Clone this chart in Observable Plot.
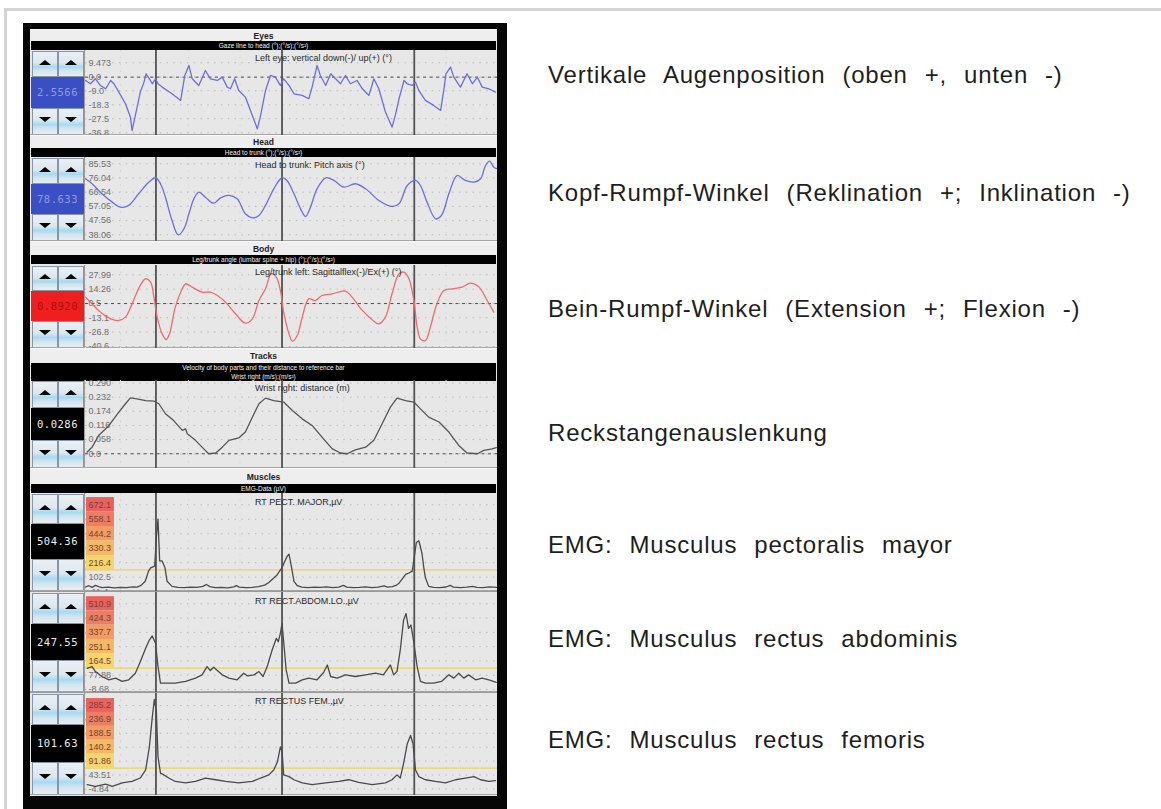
<!DOCTYPE html>
<html><head><meta charset="utf-8">
<script src="https://cdn.jsdelivr.net/npm/d3@7"></script>
<script src="https://cdn.jsdelivr.net/npm/@observablehq/plot@0.6"></script>
<style>
body{margin:0;width:1161px;height:809px;position:relative;overflow:hidden;background:#fff;font-family:"Liberation Sans",Arial,sans-serif}
</style></head><body>
<script>
// ---------------- DATA ----------------
const sectionNames = ["Eyes","Head","Body","Tracks","Muscles"];
const sectionBars = [
  ["Gaze line to head (°);(°/s);(°/s²)"],
  ["Head to trunk (°);(°/s);(°/s²)"],
  ["Leg/trunk angle (lumbar spine + hip) (°);(°/s);(°/s²)"],
  ["Velocity of body parts and their distance to reference bar","Wrist right (m/s);(m/s²)"],
  ["EMG-Data (µV)"]
];
const plotTitles = ["Left eye: vertical down(-)/ up(+) (°)","Head to trunk: Pitch axis (°)","Leg/trunk left: Sagittalflex(-)/Ex(+) (°)","Wrist right: distance (m)","RT PECT. MAJOR,µV","RT RECT.ABDOM.LO.,µV","RT RECTUS FEM.,µV"];
const valueReadouts = ["2.5566","78.633","0.8920","0.0286","504.36","247.55","101.63"];
const rightLabels = ["Vertikale Augenposition (oben +, unten -)","Kopf-Rumpf-Winkel (Reklination +; Inklination -)","Bein-Rumpf-Winkel (Extension +; Flexion -)","Reckstangenauslenkung","EMG: Musculus pectoralis mayor","EMG: Musculus rectus abdominis","EMG: Musculus rectus femoris"];

// tick labels per panel
const eyeLabels   = ["9.473","0.0","-9.0","-18.3","-27.5","-36.8"];
const headLabels  = ["85.53","76.04","66.54","57.05","47.56","38.06"];
const bodyLabels  = ["27.99","14.26","0.5","-13.1","-26.8","-40.6"];
const trackLabels = ["0.290","0.232","0.174","0.116","0.058","0.0"];
const emg1Labels  = ["672.1","558.1","444.2","330.3","216.4","102.5","-11.4"];
const emg2Labels  = ["510.9","424.3","337.7","251.1","164.5","77.88","-8.68"];
const emg3Labels  = ["285.2","236.9","188.5","140.2","91.86","43.51","-4.84"];
const emgThresholds = [159.5, 121.2, 67.7];

// cursor (event) times, time axis 0..100
const cursorTimes = [17.1, 47.7, 79.8];

// series [time, value]
const eyeSeries = [[0,-2.2],[1.2,-4.4],[2.4,-1.1],[3.6,-5.5],[4.9,-7.7],[6.1,-2.2],[6.9,-4.4],[8.1,-9.9],[9.7,-17.6],[10.9,-26.4],[11.3,-35.3],[12.1,-25.3],[13.3,-9.9],[14.2,-3.3],[14.7,2.2],[15.5,-1.1],[16.2,-4.4],[17.0,-1.1],[17.6,-4.4],[18.6,-6.6],[21.0,-11.0],[23.1,-15.4],[24.1,1.1],[25.1,7.7],[25.9,-1.1],[27.5,-5.5],[29.1,4.4],[30.3,-1.1],[32.0,-2.2],[33.2,0.0],[34.4,-6.6],[35.2,-7.7],[36.2,-1.1],[37.2,-8.8],[38.8,-13.2],[40.5,-25.3],[41.7,-34.2],[42.5,-25.3],[43.7,-8.8],[44.9,1.1],[46.1,0.0],[47.3,-5.5],[48.1,-1.1],[49.4,-5.5],[50.6,-11.0],[52.6,-12.1],[54.2,-14.3],[55.0,-6.6],[56.2,7.7],[57.0,1.1],[58.3,-5.5],[59.5,2.2],[60.7,-1.1],[61.9,-4.4],[63.1,1.1],[64.3,-4.4],[65.9,-2.2],[67.2,-7.7],[68.8,-12.1],[70.0,-1.1],[71.2,-7.7],[72.8,-23.1],[74.4,-33.0],[75.2,-25.3],[76.1,-14.3],[77.3,-2.2],[78.1,-4.4],[79.3,-5.5],[80.1,-3.3],[80.9,-8.8],[82.5,-15.4],[84.5,-18.7],[86.2,-22.0],[87.0,-7.7],[87.5,2.2],[88.6,6.6],[89.4,0.0],[91.0,-6.6],[92.6,2.2],[93.9,-4.4],[95.1,0.0],[96.3,-6.6],[97.9,-7.7],[99.5,-9.9]];
const headSeries = [[0,75.5],[1.6,72.2],[4.0,65.5],[6.5,59.9],[8.5,56.5],[10.5,57.7],[12.9,65.5],[15.4,73.3],[17.0,76.2],[18.2,72.2],[19.4,63.2],[21.0,47.6],[22.5,38.0],[23.9,42.1],[25.1,52.1],[26.3,62.1],[27.5,66.6],[29.1,63.2],[31.1,59.2],[32.8,62.8],[34.8,64.4],[36.8,62.1],[38.8,52.1],[40.5,49.4],[42.1,51.0],[43.7,57.7],[45.7,68.8],[47.7,76.2],[48.9,74.4],[50.6,65.5],[52.2,55.4],[53.4,50.3],[54.6,56.5],[56.2,68.8],[58.3,76.2],[60.3,74.4],[62.7,69.9],[65.5,72.2],[68.0,68.8],[71.2,61.0],[74.4,57.0],[76.1,58.8],[78.1,71.0],[80.1,74.4],[81.3,71.0],[82.9,59.9],[85.0,48.7],[86.4,51.0],[88.2,65.5],[90.2,77.7],[92.2,74.4],[94.3,73.3],[95.9,75.5],[97.1,84.4],[98.1,87.3],[99.1,83.3],[100,82.2]];
const bodySeries = [[0,6.6],[1.6,0.2],[3.6,-7.7],[6.1,-14.1],[8.1,-15.7],[9.7,-12.5],[11.3,0.2],[13.3,17.8],[14.6,24.2],[15.8,21.0],[16.6,6.6],[17.4,-12.5],[18.6,-28.5],[19.6,-33.9],[20.4,-28.5],[21.8,-2.9],[23.5,14.6],[24.3,19.4],[25.9,16.2],[28.3,11.4],[30.3,11.4],[32.0,8.2],[34.0,1.8],[36.4,-9.3],[38.8,-18.3],[40.5,-14.1],[42.1,3.4],[43.7,14.6],[45.1,29.0],[46.3,25.8],[47.3,13.0],[48.1,-7.7],[49.4,-28.5],[50.2,-35.5],[51.4,-30.1],[52.6,-12.5],[54.2,5.0],[55.8,3.4],[57.4,8.2],[59.9,9.8],[63.1,12.4],[64.7,6.6],[67.2,-6.1],[69.6,-15.1],[71.2,-18.9],[72.8,-12.5],[74.4,9.8],[76.1,29.0],[77.3,30.5],[78.5,24.2],[79.7,3.4],[80.5,-22.1],[81.3,-33.3],[82.5,-34.9],[83.7,-22.1],[85.3,0.2],[87.0,13.0],[89.0,14.6],[91.4,16.2],[93.4,20.0],[95.5,16.2],[97.5,3.4],[99.1,-7.7]];
const trackSeries = [[0.4,0.007],[1.6,0.027],[3.2,0.075],[5.7,0.116],[8.1,0.171],[9.7,0.205],[10.9,0.229],[12.5,0.225],[14.6,0.218],[16.6,0.216],[17.8,0.205],[19.4,0.164],[21.4,0.136],[23.5,0.096],[24.3,0.102],[24.7,0.082],[26.7,0.055],[28.7,0.020],[29.9,0.0],[31.6,0.003],[33.2,0.027],[34.8,0.055],[37.2,0.065],[38.8,0.089],[40.5,0.150],[42.1,0.205],[43.7,0.228],[45.7,0.218],[48.1,0.212],[50.2,0.177],[52.6,0.143],[55.0,0.116],[57.4,0.068],[59.9,0.020],[61.9,0.003],[63.5,0.0],[65.5,0.016],[68.0,0.027],[70.0,0.055],[72.0,0.123],[74.0,0.191],[75.6,0.228],[77.7,0.218],[79.7,0.212],[81.3,0.184],[83.3,0.150],[85.8,0.130],[88.2,0.089],[90.6,0.034],[92.6,0.003],[95.1,0.0],[96.7,0.014],[98.7,0.020],[99.7,0.025]];
const emg1Series = [[0,25],[0.8,35],[1.6,22],[2.4,38],[3.2,28],[4.0,20],[5.5,24],[7.0,18],[8.5,22],[10,20],[11.5,26],[12.5,24],[13.5,38],[14.5,70],[15.3,150],[15.8,176],[16.8,190],[17.2,415],[17.6,560],[18.0,230],[18.6,230],[19.3,176],[19.8,70],[21.0,30],[22.5,22],[24,20],[25.5,24],[27,22],[28.5,30],[29.3,45],[30.2,28],[31.5,20],[33,22],[34.5,18],[36,26],[36.6,36],[37.3,24],[39,20],[40.5,22],[42,28],[43.5,40],[44.5,60],[45.5,90],[46.5,120],[47.0,145],[47.7,176],[48.4,230],[49.0,270],[49.4,283],[49.9,200],[50.6,70],[51.4,35],[52.5,24],[54,20],[55.5,24],[57,22],[58.5,26],[60,20],[61.5,24],[62.6,38],[63.4,24],[65,20],[66.5,22],[68,26],[69.5,20],[71,24],[72.5,34],[73.3,24],[74.5,28],[75.5,40],[76.1,55],[76.8,85],[77.7,124],[78.5,135],[79.3,150],[79.8,260],[80.3,375],[80.9,389],[81.3,340],[81.7,283],[82.1,180],[82.5,97],[83.3,30],[84.5,22],[86,20],[87.5,25],[88.5,38],[89.3,24],[91,20],[92.5,24],[94,30],[95,22],[96.5,20],[98,26],[100,22]];
const emg2Series = [[0.4,120],[1.6,130],[2.4,100],[4.0,70],[5.7,50],[7.3,60],[8.9,40],[10.5,50],[12.1,90],[13.3,160],[14.6,241],[15.5,291],[16.2,316],[17.0,271],[17.6,130],[18.2,30],[19.4,30],[21.8,30],[24.3,40],[26.7,60],[28.3,80],[29.5,130],[30.3,106],[31.1,126],[32.0,106],[33.2,80],[34.8,60],[36.8,50],[38.4,90],[39.3,74],[40.9,80],[42.1,100],[43.1,70],[44.1,130],[45.3,231],[46.3,301],[46.8,281],[47.3,332],[47.7,392],[48.1,281],[48.7,110],[49.4,30],[51.0,30],[52.6,50],[54.2,60],[56.2,50],[57.8,94],[58.7,140],[59.5,70],[61.1,60],[63.1,80],[65.5,70],[68.0,80],[70.4,90],[72.3,80],[74.0,140],[74.8,80],[75.6,100],[76.4,231],[77.2,412],[77.8,452],[78.4,362],[79.0,382],[79.6,291],[80.5,130],[81.3,40],[82.5,30],[84.5,30],[86.4,40],[88.2,80],[89.4,60],[90.6,90],[91.8,60],[93.0,80],[94.7,50],[96.3,60],[97.9,50],[99.7,35]];
const emg3Series = [[0.4,10],[2.4,4],[4.9,12],[6.5,4],[8.9,16],[11.3,21],[13.3,33],[14.6,61],[15.5,141],[16.2,243],[16.7,306],[17.2,266],[17.6,107],[18.2,50],[19.0,44],[20.2,33],[21.8,21],[24.3,16],[26.7,21],[29.1,33],[31.6,27],[34.0,21],[37.2,16],[40.5,21],[42.5,33],[44.5,44],[45.7,61],[46.6,90],[47.3,141],[47.7,129],[48.1,44],[49.4,38],[50.6,27],[52.6,16],[55.0,10],[58.3,16],[61.5,21],[63.9,27],[66.3,18],[69.6,10],[72.8,16],[74.4,27],[75.6,44],[76.4,33],[77.2,84],[78.1,152],[78.9,181],[79.5,152],[80.1,61],[80.9,38],[82.5,27],[84.9,21],[87.4,16],[89.8,27],[92.2,33],[94.3,38],[95.9,27],[97.9,21],[99.5,24]];

// ---------------- LAYOUT ----------------
function box(x, y, w, h, style, parent) {
  const d = document.createElement("div");
  d.style.cssText = `position:absolute;left:${x}px;top:${y}px;width:${w}px;height:${h}px;box-sizing:border-box;${style || ""}`;
  (parent || document.body).appendChild(d);
  return d;
}

// outer frame
box(5, 8, 1156, 3, "background:#d4d4d4");
box(4, 8, 3, 801, "background:#d4d4d4");
// black instrument frame
box(23, 23, 484, 786, "background:#060606");
box(30, 29, 467, 767, "background:#e7e7e7");

// section headers & black bars
const sectionLayout = [
  {y: 29, bars: [41]}, {y: 135, bars: [148]}, {y: 241, bars: [255]},
  {y: 348, bars: [363, 372]}, {y: 468, bars: [484]}
];
sectionLayout.forEach((s, i) => {
  const h = s.bars[0] - s.y;
  const hd = box(30, s.y, 467, h, `background:#eeeeee;border-top:1px solid #fafafa;font:bold 8.5px "Liberation Sans",Arial,sans-serif;color:#222;text-align:center;line-height:${h}px`);
  hd.textContent = sectionNames[i];
  s.bars.forEach((by, j) => {
    const b = box(31, by, 465, 9, `background:#000;color:#f2f2f2;font:6.5px "Liberation Sans",Arial,sans-serif;text-align:center;line-height:9px;white-space:nowrap`);
    b.textContent = sectionBars[i][j];
  });
});

// panels
const boxColors = ["#e9625f", "#ec7e64", "#f09c63", "#f3b966", "#f4d56e"];
const panels = [
  {top: 50, h: 85, lt: 12.3, step: 14.0, labels: eyeLabels, data: eyeSeries, color: "#6e6ed8", curve: "linear", dashed: 0, ty: 58, vbg: "#3a4fc3", vfg: "#8f9be4"},
  {top: 157, h: 84, lt: 6.3, step: 14.2, labels: headLabels, data: headSeries, color: "#6e6ed8", curve: "catmull-rom", dashed: null, ty: 165, vbg: "#3a4fc3", vfg: "#8f9be4"},
  {top: 265, h: 83, lt: 9.3, step: 14.34, labels: bodyLabels, data: bodySeries, color: "#ee6b6b", curve: "catmull-rom", dashed: 0.5, ty: 272, vbg: "#f01f1f", vfg: "#a80f0f"},
  {top: 380, h: 88, lt: 2.5, step: 14.15, labels: trackLabels, data: trackSeries, color: "#555555", curve: "linear", dashed: 0, ty: 388, vbg: "#000", vfg: "#eee"},
  {top: 493, h: 98, lt: 11.3, step: 14.47, labels: emg1Labels, data: emg1Series, color: "#4a4a4a", curve: "linear", dashed: null, ty: 502, vbg: "#000", vfg: "#eee", emg: 0},
  {top: 592, h: 100, lt: 11.3, step: 14.28, labels: emg2Labels, data: emg2Series, color: "#4a4a4a", curve: "linear", dashed: null, ty: 601, vbg: "#000", vfg: "#eee", emg: 1},
  {top: 693, h: 102, lt: 12.0, step: 13.9, labels: emg3Labels, data: emg3Series, color: "#4a4a4a", curve: "linear", dashed: null, ty: 701, vbg: "#000", vfg: "#eee", emg: 2}
];

function button(x, y, w, h, dir) {
  const b = box(x, y, w, h, "border:1px solid #8796a6;background:linear-gradient(#eaf0f5 0%,#dce7ef 45%,#a3dbf2 62%,#d5e4ee 78%,#e6edf3 100%)");
  const a = document.createElement("div");
  a.style.cssText = `position:absolute;left:50%;top:45%;width:0;height:0;margin-left:-6px;margin-top:-3px;border-left:6px solid transparent;border-right:6px solid transparent;${dir === "up" ? "border-bottom" : "border-top"}:5px solid #000`;
  b.appendChild(a);
}

panels.forEach((p, i) => {
  const W = 412;
  // controls
  const vh = Math.round(p.h * 0.36);
  const bh = Math.floor((p.h - vh) / 2);
  button(32, p.top + 1, 26, bh - 1, "up");
  button(58, p.top + 1, 26, bh - 1, "up");
  const v = box(31, p.top + bh, 53, vh, `background:${p.vbg};color:${p.vfg};font:10.5px "DejaVu Sans Mono",monospace;letter-spacing:0.5px;text-align:center;line-height:${vh}px`);
  v.textContent = valueReadouts[i];
  button(32, p.top + bh + vh, 26, p.h - bh - vh, "down");
  button(58, p.top + bh + vh, 26, p.h - bh - vh, "down");
  box(84, p.top, 1, p.h, "background:#9c9c9c");
  box(30, p.top + p.h - 1, 467, 1, "background:#a4a4a4");

  // chart
  const nums = p.labels.map(Number);
  const n = nums.length;
  const yDomain = [nums[n - 1], nums[0]];
  const yRange = [p.lt + p.step * (n - 1), p.lt];
  const marks = [
    Plot.ruleY(nums, {stroke: "#b4b4b4", strokeDasharray: "1.3,5.5"}),
    Plot.ruleX([0, 8.5, 25, 37.5, 62.5, 87.5], {stroke: "#d2d2d2", strokeDasharray: "1.3,5.5"})
  ];
  if (p.emg != null) {
    const half = (nums[0] - nums[1]) / 2;
    const boxes = nums.slice(0, 5).map((val, k) => ({lo: val - half, hi: val + half, c: boxColors[k]}));
    marks.push(Plot.rect(boxes, {y1: "lo", y2: "hi", fill: "c", insetLeft: 1, insetRight: 383}));
  }
  marks.push(Plot.text(p.labels, {
    y: d => +d, text: d => d, frameAnchor: "left", textAnchor: "start", dx: 3,
    fill: (d, k) => (p.emg != null && k < 5) ? "#7a3f30" : "#707070",
    fontSize: 9, fontFamily: "Liberation Sans, Arial, sans-serif"
  }));
  if (p.emg != null) marks.push(Plot.ruleY([emgThresholds[p.emg]], {stroke: "#e9d35c", strokeWidth: 1.2}));
  if (p.dashed != null) marks.push(Plot.ruleY([p.dashed], {stroke: "#505050", strokeDasharray: "3,3.5", strokeWidth: 1}));
  marks.push(Plot.ruleX(cursorTimes, {stroke: "#525252", strokeWidth: 1.8}));
  marks.push(Plot.line(p.data, {x: d => d[0], y: d => d[1], stroke: p.color, strokeWidth: 1.3, curve: p.curve}));

  const chart = Plot.plot({
    width: W, height: p.h, margin: 0,
    x: {domain: [0, 100], axis: null},
    y: {domain: yDomain, range: yRange, axis: null},
    color: {type: "identity"},
    style: {background: "transparent", overflow: "hidden"},
    marks
  });
  const holder = box(85, p.top, W, p.h, "overflow:hidden");
  holder.appendChild(chart);

  const t = box(255, p.ty - 6, 240, 12, `font:9px "Liberation Sans",Arial,sans-serif;color:#2a2a2a;white-space:nowrap;line-height:12px`);
  t.textContent = plotTitles[i];
});

// EMG separators
box(30, 591, 467, 1, "background:#9a9a9a");
box(30, 692, 467, 1, "background:#9a9a9a");

// right-hand annotations
const rightY = [75, 193, 309, 433, 545, 639, 740];
rightLabels.forEach((s, i) => {
  const d = box(548, rightY[i] - 15, 613, 30, `font:24px "Liberation Sans",Arial,sans-serif;color:#1e1e1e;line-height:30px;white-space:nowrap;letter-spacing:0.8px;word-spacing:9.5px`);
  d.textContent = s;
});
</script>
</body></html>
